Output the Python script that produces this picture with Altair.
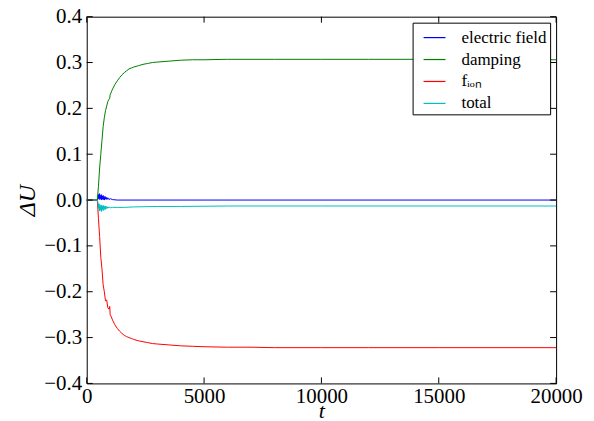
import altair as alt
import pandas as pd

# ---- data ----
t_main = [0, 450, 500, 550, 600, 650, 700, 750, 800, 850, 900, 950, 980, 1000, 1050, 1100,
          1200, 1300, 1400, 1500, 1600, 1700, 1800, 1900, 2000, 2200, 2400, 2600, 2800,
          3000, 3500, 4000, 4500, 5000, 6000, 7000, 8000, 10000, 12000, 15000, 20000]
damping = [0, 0, 0.03, 0.07, 0.10, 0.13, 0.16, 0.18, 0.195, 0.205, 0.215, 0.220, 0.222, 0.230,
           0.236, 0.242, 0.252, 0.260, 0.267, 0.273, 0.278, 0.282, 0.286, 0.288, 0.290, 0.293,
           0.296, 0.298, 0.300, 0.301, 0.303, 0.305, 0.306, 0.306, 0.307, 0.307, 0.307, 0.307,
           0.307, 0.307, 0.306]
f_ion = [0, 0, -0.04, -0.08, -0.125, -0.15, -0.185, -0.20, -0.22, -0.218, -0.235, -0.238, -0.232,
         -0.250, -0.255, -0.262, -0.272, -0.280, -0.286, -0.291, -0.295, -0.298, -0.300, -0.302,
         -0.304, -0.307, -0.309, -0.311, -0.313, -0.314, -0.316, -0.318, -0.319, -0.320, -0.321,
         -0.321, -0.322, -0.322, -0.322, -0.322, -0.322]

t_ef = [0, 450, 480, 500, 520, 540, 560, 580, 600, 620, 640, 660, 680, 700, 720, 740, 760,
        780, 800, 830, 860, 900, 950, 1000, 1100, 1300, 20000]
electric = [0, 0, 0.004, 0.012, 0.002, 0.014, 0.001, 0.010, 0.003, 0.012, 0.0, 0.009, 0.002,
            0.010, 0.001, 0.007, 0.0, 0.008, 0.002, 0.006, 0.001, 0.005, 0.001, 0.003, 0.001,
            0.0, 0.0]

t_tot = [0, 450, 480, 500, 520, 540, 560, 580, 600, 620, 640, 660, 680, 700, 720, 740, 760,
         780, 800, 830, 860, 900, 950, 1000, 1100, 1300, 1600, 2000, 3000, 4000, 6000, 10000,
         15000, 20000]
total = [0, 0, -0.006, -0.018, -0.008, -0.024, -0.010, -0.022, -0.012, -0.025, -0.011, -0.021,
         -0.013, -0.023, -0.012, -0.020, -0.014, -0.021, -0.013, -0.019, -0.014, -0.018, -0.015,
         -0.017, -0.016, -0.016, -0.016, -0.015, -0.014, -0.014, -0.013, -0.013, -0.013, -0.013]

series_names = ["electric field", "damping", "fᵢₒₙ", "total"]
series_colors = ["#0000ff", "#008000", "#ff0000", "#00bfbf"]

x_ticks = [0, 5000, 10000, 15000, 20000]
y_ticks = [-0.4, -0.3, -0.2, -0.1, 0.0, 0.1, 0.2, 0.3, 0.4]

rows = []
for name, ts, vs in [(series_names[0], t_ef, electric), (series_names[1], t_main, damping),
                     (series_names[2], t_main, f_ion), (series_names[3], t_tot, total)]:
    for t, v in zip(ts, vs):
        rows.append({"t": t, "value": v, "series": name})
df = pd.DataFrame(rows)

W, H = 471, 368
FONT = "Liberation Serif"
TL = 6

xs = alt.Scale(domain=[0, 20000], nice=False)
ys = alt.Scale(domain=[-0.4, 0.4], nice=False)

common = dict(tickSize=0, labelFlush=False, labelOverlap=False, grid=False, domain=False,
              labelFont=FONT, labelFontSize=21, labelColor="black",
              titleFont=FONT, titleFontStyle="italic",
              titleFontWeight="normal", titleColor="black")
x_axis = alt.Axis(title="t", values=x_ticks, format="d", labelPadding=2,
                  titleFontSize=22, titleY=34, titleBaseline="alphabetic", **common)
y_axis = alt.Axis(title="ΔU", values=y_ticks, format=".1f", labelPadding=5, titlePadding=4,
                  titleFontSize=24, **common)

lines = alt.Chart(df).mark_line(strokeWidth=1).encode(
    x=alt.X("t:Q", scale=xs, axis=x_axis),
    y=alt.Y("value:Q", scale=ys, axis=y_axis),
    color=alt.Color("series:N", sort=series_names,
                    scale=alt.Scale(domain=series_names, range=series_colors),
                    legend=alt.Legend(title=None, orient="top-right", offset=6,
                                      symbolType="stroke", symbolSize=484, symbolStrokeWidth=1.2,
                                      symbolOffset=7,
                                      labelFontSize=17, labelFont=FONT, labelOffset=15,
                                      strokeColor="black", fillColor="white", padding=3,
                                      rowPadding=2, labelColor="black")),
    detail="series:N",
)

xdf = pd.DataFrame({"t": x_ticks})
ydf = pd.DataFrame({"value": y_ticks})

tick_bottom = alt.Chart(xdf).mark_rule(color="black", strokeWidth=1).encode(
    x=alt.X("t:Q", scale=xs, axis=x_axis), y=alt.value(H), y2=alt.value(H - TL))
tick_top = alt.Chart(xdf).mark_rule(color="black", strokeWidth=1).encode(
    x=alt.X("t:Q", scale=xs, axis=x_axis), y=alt.value(0), y2=alt.value(TL))
tick_left = alt.Chart(ydf).mark_rule(color="black", strokeWidth=1).encode(
    y=alt.Y("value:Q", scale=ys, axis=y_axis), x=alt.value(0), x2=alt.value(TL))
tick_right = alt.Chart(ydf).mark_rule(color="black", strokeWidth=1).encode(
    y=alt.Y("value:Q", scale=ys, axis=y_axis), x=alt.value(W), x2=alt.value(W - TL))

chart = alt.layer(lines, tick_bottom, tick_top, tick_left, tick_right).properties(
    width=W, height=H,
    autosize=alt.AutoSizeParams(type="none"),
    padding={"left": 79, "top": 8, "right": 30, "bottom": 36},
).configure(background="white").configure_view(stroke="black", strokeWidth=1)

chart.save("out.html", embed_options={"renderer": "svg", "actions": False})
